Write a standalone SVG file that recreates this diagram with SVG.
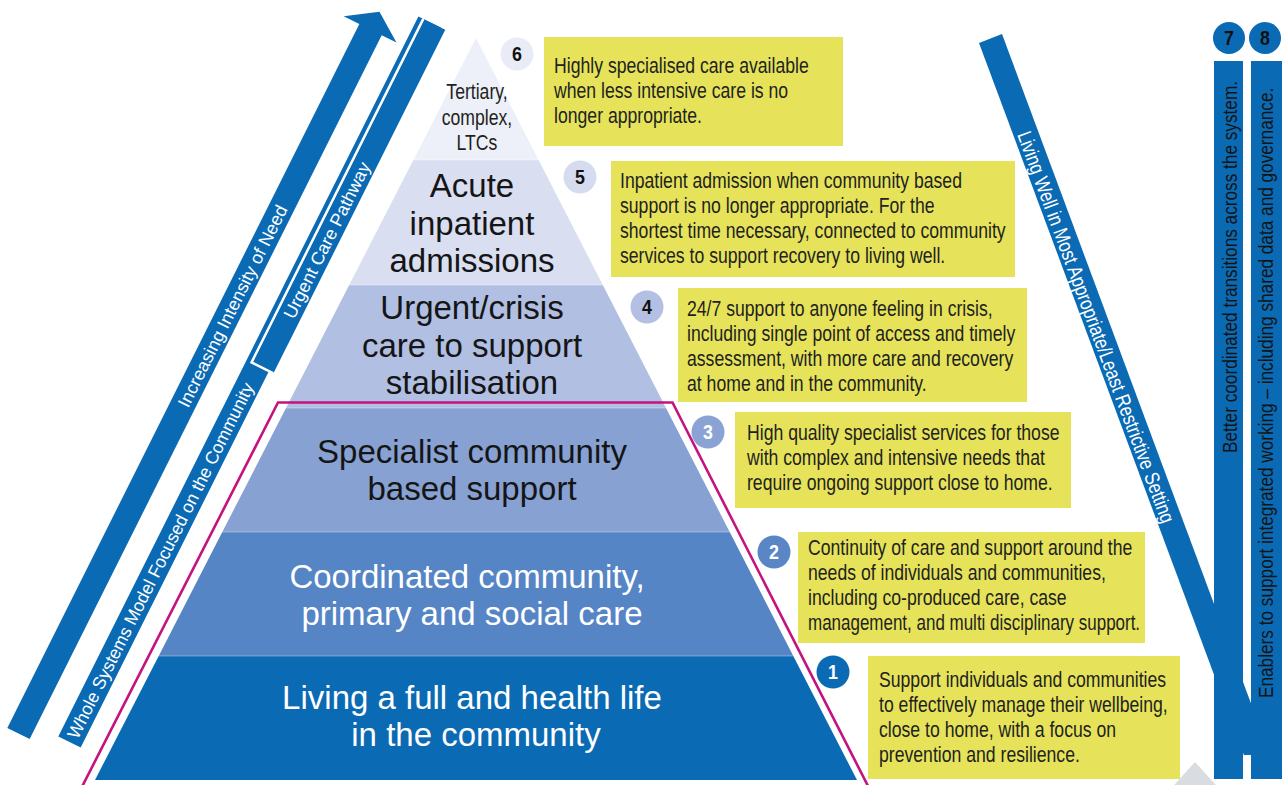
<svg xmlns="http://www.w3.org/2000/svg" width="1282" height="785" viewBox="0 0 1282 785">
<style>
.lay{font-family:"Liberation Sans",Arial,sans-serif;font-size:33px;text-anchor:middle}
.dk{fill:#151515}
.wt{fill:#ffffff}
.blue{fill:#0a6ab4}
.box{fill:#e6e35a}
.bt{font-family:"Liberation Sans",Arial,sans-serif;font-size:21.5px;fill:#231f20}
.num{font-family:"Liberation Sans",Arial,sans-serif;font-weight:bold;font-size:21px;text-anchor:middle}
.atx{font-family:"Liberation Sans",Arial,sans-serif;font-size:18px;fill:#ffffff;text-anchor:middle}
.vtx{font-family:"Liberation Sans",Arial,sans-serif;font-size:21px;fill:#141414}
</style>
<rect width="1282" height="785" fill="#ffffff"/>

<polygon points="1195,762 1166,794 1224,794" fill="#d9dde1"/>

<g id="connectors">
  <g id="arrow-intensity" transform="translate(18.5,733.5) rotate(26.57)">
    <polygon class="blue" points="-12.5,0 12.5,0 12.5,-787 29,-787 0,-807 -30,-787 -12.5,-787"/>
    <text class="atx" transform="translate(0,-478) rotate(-90)" x="0" y="6.5">Increasing Intensity of Need</text>
  </g>
  <g id="arrow-whole-system" transform="translate(69.5,742) rotate(26.57)">
    <rect class="blue" x="-12.5" y="-805" width="25" height="805"/>
    <polygon class="blue" points="-7,-421 17.5,-421 17.5,-805 -7,-805"/>
    <polyline points="-7,-805 -7,-421 17.5,-421" fill="none" stroke="#ffffff" stroke-width="2.5"/>
    <text class="atx" transform="translate(0,-203) rotate(-90)" x="0" y="6.5" textLength="395" lengthAdjust="spacingAndGlyphs">Whole Systems Model Focused on the Community</text>
    <text class="atx" transform="translate(5.5,-564) rotate(-90)" x="0" y="6.5">Urgent Care Pathway</text>
  </g>
  <g id="band-living-well">
    <polygon class="blue" points="979,43 1002,34 1270.2,755 1243.9,755"/>
    <g transform="translate(1096,327) rotate(69.6) scale(0.82,1)">
      <text x="0" y="7" text-anchor="middle" font-family="'Liberation Sans',Arial,sans-serif" font-size="20.5" fill="#ffffff">Living Well in Most Appropriate/Least Restrictive Setting</text>
    </g>
  </g>
</g>

<g id="pyramid">
  <g id="layer-6">
    <polygon points="476,38 538.6,160 413.4,160" fill="#eef0f9"/>
    <g transform="translate(477,0) scale(0.82,1)">
      <text class="bt" text-anchor="middle" font-size="19" fill="#222"><tspan x="0" y="99">Tertiary,</tspan><tspan x="0" y="125">complex,</tspan><tspan x="0" y="150">LTCs</tspan></text>
    </g>
  </g>
  <g id="layer-5">
    <polygon points="413.4,160 538.6,160 602.8,285 349.2,285" fill="#d9def1"/>
    <text class="lay dk"><tspan x="472" y="197">Acute</tspan><tspan x="472" y="235">inpatient</tspan><tspan x="472" y="272">admissions</tspan></text>
  </g>
  <g id="layer-4">
    <polygon points="349.2,285 602.8,285 666,408 286,408" fill="#b1bfe3"/>
    <text class="lay dk"><tspan x="472" y="319">Urgent/crisis</tspan><tspan x="472" y="357">care to support</tspan><tspan x="472" y="394">stabilisation</tspan></text>
  </g>
  <g id="layer-3">
    <polygon points="286,408 666,408 729.7,532 222.3,532" fill="#87a1d3"/>
    <text class="lay dk"><tspan x="472" y="463">Specialist community</tspan><tspan x="472" y="500">based support</tspan></text>
  </g>
  <g id="layer-2">
    <polygon points="222.3,532 729.7,532 793.3,656 158.7,656" fill="#5585c5"/>
    <text class="lay wt"><tspan x="467" y="588">Coordinated community,</tspan><tspan x="472" y="625">primary and social care</tspan></text>
  </g>
  <g id="layer-1">
    <polygon points="158.7,656 793.3,656 857,780 95,780" fill="#0b6ab4"/>
    <text class="lay wt"><tspan x="472" y="709">Living a full and health life</tspan><tspan x="476" y="746">in the community</tspan></text>
  </g>
  <g stroke="#ffffff" stroke-opacity="0.35" stroke-width="1">
    <line x1="413.4" y1="160" x2="538.6" y2="160"/>
    <line x1="349.2" y1="285" x2="602.8" y2="285"/>
    <line x1="286" y1="408" x2="666" y2="408"/>
    <line x1="222.3" y1="532" x2="729.7" y2="532"/>
    <line x1="158.7" y1="656" x2="793.3" y2="656"/>
  </g>
  <polyline id="community-outline" points="82.4,786 278,402.5 672.5,402.5 868,786" fill="none" stroke="#c4137f" stroke-width="2.6"/>
</g>

<g id="node-6">
  <circle cx="517" cy="54" r="16.5" fill="#e9ecf6"/>
  <g transform="translate(517,0) scale(0.85,1)"><text class="num" x="0" y="61.5" fill="#111">6</text></g>
  <rect class="box" x="544" y="37" width="299" height="109"/>
  <g transform="translate(554,0) scale(0.82,1)">
    <text class="bt"><tspan x="0" y="73">Highly specialised care available</tspan><tspan x="0" y="98">when less intensive care is no</tspan><tspan x="0" y="123">longer appropriate.</tspan></text>
  </g>
</g>
<g id="node-5">
  <circle cx="580" cy="177" r="16.5" fill="#d6dcf0"/>
  <g transform="translate(580,0) scale(0.85,1)"><text class="num" x="0" y="184.5" fill="#111">5</text></g>
  <rect class="box" x="611" y="161" width="404" height="116"/>
  <g transform="translate(620,0) scale(0.82,1)">
    <text class="bt"><tspan x="0" y="188">Inpatient admission when community based</tspan><tspan x="0" y="213">support is no longer appropriate. For the</tspan><tspan x="0" y="238">shortest time necessary, connected to community</tspan><tspan x="0" y="263">services to support recovery to living well.</tspan></text>
  </g>
</g>
<g id="node-4">
  <circle cx="647" cy="307" r="16.5" fill="#b3c0e3"/>
  <g transform="translate(647,0) scale(0.85,1)"><text class="num" x="0" y="314.5" fill="#111">4</text></g>
  <rect class="box" x="678" y="288" width="349" height="114"/>
  <g transform="translate(687,0) scale(0.82,1)">
    <text class="bt"><tspan x="0" y="316">24/7 support to anyone feeling in crisis,</tspan><tspan x="0" y="341">including single point of access and timely</tspan><tspan x="0" y="366">assessment, with more care and recovery</tspan><tspan x="0" y="391">at home and in the community.</tspan></text>
  </g>
</g>
<g id="node-3">
  <circle cx="708" cy="432" r="16.5" fill="#8aa3d4"/>
  <g transform="translate(708,0) scale(0.85,1)"><text class="num" x="0" y="439.5" fill="#fff">3</text></g>
  <rect class="box" x="735" y="412" width="336" height="96"/>
  <g transform="translate(747,0) scale(0.82,1)">
    <text class="bt"><tspan x="0" y="440">High quality specialist services for those</tspan><tspan x="0" y="465">with complex and intensive needs that</tspan><tspan x="0" y="490">require ongoing support close to home.</tspan></text>
  </g>
</g>
<g id="node-2">
  <circle cx="774" cy="552" r="16.5" fill="#5a86c6"/>
  <g transform="translate(774,0) scale(0.85,1)"><text class="num" x="0" y="559.5" fill="#fff">2</text></g>
  <rect class="box" x="798" y="532" width="347" height="111"/>
  <g transform="translate(808,0) scale(0.82,1)">
    <text class="bt"><tspan x="0" y="555">Continuity of care and support around the</tspan><tspan x="0" y="580">needs of individuals and communities,</tspan><tspan x="0" y="605">including co-produced care, case</tspan></text>
    <text class="bt" x="0" y="630" textLength="405" lengthAdjust="spacingAndGlyphs">management, and multi disciplinary support.</text>
  </g>
</g>
<g id="node-1">
  <circle cx="833" cy="672" r="16.5" fill="#0b6ab4"/>
  <g transform="translate(833,0) scale(0.85,1)"><text class="num" x="0" y="679.5" fill="#fff">1</text></g>
  <rect class="box" x="868" y="656" width="312" height="123"/>
  <g transform="translate(879,0) scale(0.82,1)">
    <text class="bt"><tspan x="0" y="687">Support individuals and communities</tspan><tspan x="0" y="712">to effectively manage their wellbeing,</tspan><tspan x="0" y="737">close to home, with a focus on</tspan><tspan x="0" y="762">prevention and resilience.</tspan></text>
  </g>
</g>

<g id="node-7">
  <rect class="blue" x="1214" y="61" width="29" height="718"/>
  <circle class="blue" cx="1229" cy="38" r="16"/>
  <g transform="translate(1229,0) scale(0.85,1)"><text class="num" x="0" y="45.5" fill="#111">7</text></g>
  <g transform="translate(1237,453) rotate(-90) scale(0.82,1)">
    <text class="vtx" x="0" y="0" font-size="20.5">Better coordinated transitions across the system.</text>
  </g>
</g>
<g id="node-8">
  <rect class="blue" x="1251" y="61" width="40" height="718"/>
  <circle class="blue" cx="1265" cy="38" r="16"/>
  <g transform="translate(1265,0) scale(0.85,1)"><text class="num" x="0" y="45.5" fill="#111">8</text></g>
  <g transform="translate(1273,698) rotate(-90) scale(0.82,1)">
    <text class="vtx" x="0" y="0" font-size="20.5">Enablers to support integrated working – including shared data and governance.</text>
  </g>
</g>
</svg>
